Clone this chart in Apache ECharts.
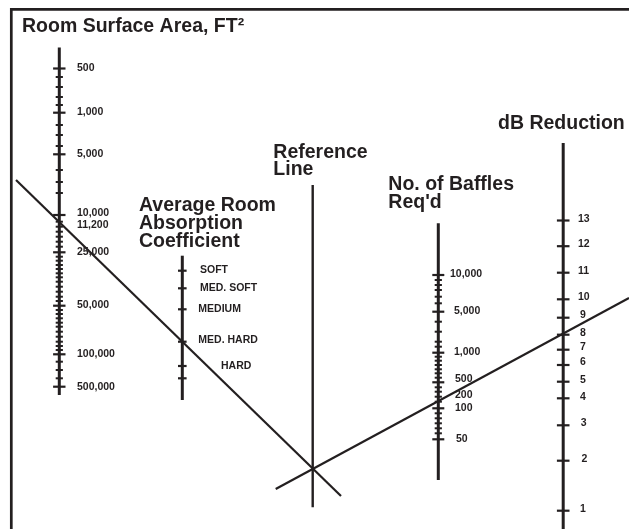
<!DOCTYPE html>
<html>
<head>
<meta charset="utf-8">
<style>
  html, body { margin: 0; padding: 0; background: #ffffff; }
  #chart { width: 629px; height: 529px; }
</style>
<script src="https://cdn.jsdelivr.net/npm/echarts@6/dist/echarts.min.js"></script>
</head>
<body>
<div id="chart"></div>
<script>
// ---------------- Data (chart units along each scale) ----------------
// Room Surface Area scale
const areaLabels   = ['500', '1,000', '5,000', '10,000', '11,200', '25,000', '50,000', '100,000', '500,000'];
const areaLabelPos = [68.5, 112.5, 154, 213, 225, 252, 305.5, 354, 387];
const areaMajorPos = [68.5, 112.7, 154.3, 215, 252.3, 305.7, 354.3, 386.7];
const areaMinorPos = [77, 87, 97, 105, 125, 135, 146, 170, 182, 193,
                      221.7, 226.7, 231.7, 236.7, 241.7, 246.7,
                      256.7, 260.7, 265, 269, 273.3, 277.3, 281.7, 286.7, 291.7, 296.7, 301,
                      310, 314, 318.3, 322.7, 326.7, 331.7, 336.7, 341.7, 346, 350,
                      361.7, 370, 378.3];

// Average Room Absorption Coefficient scale
const absorbLabels   = ['SOFT', 'MED. SOFT', 'MEDIUM', 'MED. HARD', 'HARD'];
const absorbLabelPos = [270, 288, 309, 340.5, 366];
const absorbTickPos  = [270.7, 288.3, 309.3, 341.7, 366, 378.3];

// No. of Baffles Req'd scale
const baffleLabels   = ['10,000', '5,000', '1,000', '500', '200', '100', '50'];
const baffleLabelPos = [274, 311, 352, 379.5, 395, 408.3, 439];
const baffleMajorPos = [275, 311.7, 352.7, 382.3, 408.3, 439.3];
const baffleMinorPos = [280, 285, 290, 296.7, 303.3, 321.7, 331.7, 341.7, 346.7,
                        356.7, 360.7, 365, 369.3, 373.3, 377.7, 387.3, 391.7, 396.7, 401.7,
                        413.3, 418.3, 423.3, 428.3, 433.3];

// dB Reduction scale
const dbLabels   = ['13', '12', '11', '10', '9', '8', '7', '6', '5', '4', '3', '2', '1'];
const dbLabelPos = [219.3, 244.5, 271, 296.7, 315, 333.3, 347, 362.5, 380, 396.7, 423.3, 459, 509];
const dbTickPos  = [220.5, 246.2, 272.7, 299.3, 317.7, 334.7, 349.7, 365, 381.7, 398.3, 425.3, 460.7, 510.7];

// Example solution lines drawn across the scales
const solutionLineA = [[16, 180], [341, 496]];
const solutionLineB = [[275.7, 489], [629, 298]];

// ---------------- Layout / style ----------------
const INK = '#231f20';
const FONT = '"Liberation Sans", Arial, Helvetica, sans-serif';
const L = {
  area:   { x: 59.3,  top: 47.5, bottom: 395, labelX: 77,  major: 6.2, minor: 3.6 },
  absorb: { x: 182.3, top: 255.7, bottom: 400, labelX: [200, 200, 198.3, 198.3, 221], tick: 4.3 },
  ref:    { x: 312.7, top: 185, bottom: 507.3 },
  baffle: { x: 438.3, top: 223.3, bottom: 480, labelX: [450, 454, 454, 455, 455, 455, 456], major: 6, minor: 3.6 },
  db:     { x: 563.2, top: 143, bottom: 529, labelX: [578, 578, 578, 578, 580, 580, 580, 580, 580, 580, 580.7, 581.5, 580], tick: 6.3 }
};

function axisSeries(x, y0, y1, w) {
  return {
    type: 'line', data: [[x, y0], [x, y1]], symbol: 'none', silent: true, animation: false,
    lineStyle: { color: INK, width: w, cap: 'butt' }, z: 3
  };
}
function lineSeries(pts, w) {
  return {
    type: 'line', data: pts, symbol: 'none', silent: true, animation: false,
    lineStyle: { color: INK, width: w, cap: 'butt' }, z: 4
  };
}
function tickSeries(x, positions, half, w) {
  return {
    type: 'custom', coordinateSystem: 'cartesian2d', silent: true, animation: false, clip: false, z: 5,
    data: positions.map(p => [x, p]),
    renderItem: function (params, api) {
      const c = api.coord([api.value(0), api.value(1)]);
      return { type: 'line', shape: { x1: c[0] - half, y1: c[1], x2: c[0] + half, y2: c[1] },
               style: { stroke: INK, lineWidth: w } };
    }
  };
}
function labelSeries(xs, positions, texts, size) {
  return {
    type: 'custom', coordinateSystem: 'cartesian2d', silent: true, animation: false, clip: false, z: 6,
    data: positions.map((p, i) => [Array.isArray(xs) ? xs[i] : xs, p]),
    renderItem: function (params, api) {
      const c = api.coord([api.value(0), api.value(1)]);
      return { type: 'text', x: c[0], y: c[1],
               style: { text: texts[params.dataIndex], fill: INK, fontSize: size, fontWeight: 'bold',
                        fontFamily: FONT, align: 'left', verticalAlign: 'middle' } };
    }
  };
}

const titleStyle = (lh) => ({ color: INK, fontSize: 19.5, fontWeight: 'bold', fontFamily: FONT, lineHeight: lh });

const chart = echarts.init(document.getElementById('chart'), null, { renderer: 'canvas' });
chart.setOption({
  backgroundColor: '#ffffff',
  animation: false,
  grid: { left: 0, right: 0, top: 0, bottom: 0 },
  xAxis: { type: 'value', min: 0, max: 629, show: false },
  yAxis: { type: 'value', min: 0, max: 529, inverse: true, show: false },
  title: [
    { text: 'Room Surface Area, FT²', left: 22, top: 17, padding: 0, textStyle: titleStyle(20) },
    { text: 'Average Room\nAbsorption\nCoefficient', left: 139, top: 196, padding: 0, textStyle: titleStyle(18.3) },
    { text: 'Reference\nLine', left: 273.3, top: 143.5, padding: 0, textStyle: titleStyle(17.5) },
    { text: 'No. of Baffles\nReq\'d', left: 388.3, top: 176, padding: 0, textStyle: titleStyle(18) },
    { text: 'dB Reduction', left: 498, top: 114, padding: 0, textStyle: titleStyle(20) }
  ],
  graphic: [
    { type: 'polyline', shape: { points: [[11.3, 529], [11.3, 9.3], [629, 9.3]] },
      style: { stroke: INK, lineWidth: 2.7, fill: null }, silent: true, z: 10 }
  ],
  series: [
    axisSeries(L.area.x, L.area.top, L.area.bottom, 3),
    axisSeries(L.absorb.x, L.absorb.top, L.absorb.bottom, 3),
    axisSeries(L.ref.x, L.ref.top, L.ref.bottom, 2.4),
    axisSeries(L.baffle.x, L.baffle.top, L.baffle.bottom, 3),
    axisSeries(L.db.x, L.db.top, L.db.bottom, 3),
    tickSeries(L.area.x, areaMajorPos, L.area.major, 2.2),
    tickSeries(L.area.x, areaMinorPos, L.area.minor, 2),
    tickSeries(L.absorb.x, absorbTickPos, L.absorb.tick, 2.2),
    tickSeries(L.baffle.x, baffleMajorPos, L.baffle.major, 2.2),
    tickSeries(L.baffle.x, baffleMinorPos, L.baffle.minor, 2),
    tickSeries(L.db.x, dbTickPos, L.db.tick, 2.2),
    labelSeries(L.area.labelX, areaLabelPos, areaLabels, 10.5),
    labelSeries(L.absorb.labelX, absorbLabelPos, absorbLabels, 10.5),
    labelSeries(L.baffle.labelX, baffleLabelPos, baffleLabels, 10.5),
    labelSeries(L.db.labelX, dbLabelPos, dbLabels, 10.5),
    lineSeries(solutionLineA, 2.2),
    lineSeries(solutionLineB, 2.2)
  ]
});
</script>
</body>
</html>
